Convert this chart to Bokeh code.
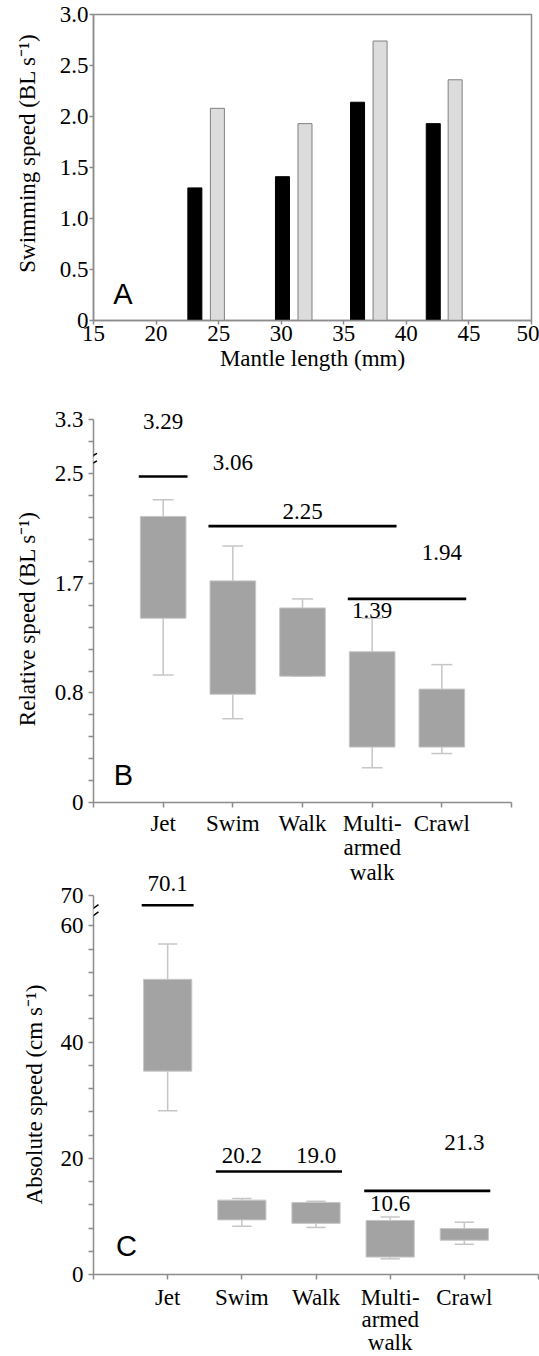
import math
from bokeh.plotting import figure
from bokeh.models import (ColumnDataSource, FixedTicker, Range1d, Label, Arrow,
                          CustomJSTickFormatter)
from bokeh.layouts import column
from bokeh.embed import file_html
from bokeh.resources import INLINE
from bokeh.core.properties import value

# ---------------- data ----------------
# Panel A
a_len_black = [23.1, 30.1, 36.1, 42.15]
a_speed_black = [1.30, 1.41, 2.14, 1.93]
a_len_grey = [24.9, 31.9, 37.9, 43.9]
a_speed_grey = [2.08, 1.93, 2.74, 2.36]
a_xticks = [15, 20, 25, 30, 35, 40, 45, 50]
a_xtick_labels = ["15", "20", "25", "30", "35", "40", "45", "50"]
a_yticks = [0, 0.5, 1.0, 1.5, 2.0, 2.5, 3.0]
a_ytick_labels = ["0", "0.5", "1.0", "1.5", "2.0", "2.5", "3.0"]

# Panels B and C
modes = ["Jet", "Swim", "Walk", "Multi-\narmed\nwalk", "Crawl"]

b_low = [0.99, 0.65, 0.98, 0.27, 0.38]
b_q1 = [1.43, 0.84, 0.98, 0.43, 0.43]
b_q3 = [2.22, 1.72, 1.51, 1.17, 0.88]
b_high = [2.35, 1.99, 1.58, 1.43, 1.07]
b_max_text = ["3.29", "3.06", "2.25", "1.39", "1.94"]
b_max_y = [2.96, 2.64, 2.26, 1.49, 1.94]
b_group_first = [1, 2, 4]
b_group_last = [1, 4, 5]
b_group_y = [2.53, 2.145, 1.58]
b_yticks = [0, 0.85, 1.7, 2.55, 2.975]
b_ytick_labels = ["0", "0.8", "1.7", "2.5", "3.3"]
b_minor_step = 0.17
b_upper_minor = [2.805]
b_break_y = 2.663

c_low = [28.2, 8.3, 8.1, 2.7, 5.2]
c_q1 = [35.0, 9.4, 8.8, 3.0, 5.9]
c_q3 = [50.8, 12.8, 12.4, 9.3, 7.9]
c_high = [56.9, 13.1, 12.6, 9.9, 9.0]
c_max_text = ["70.1", "20.2", "19.0", "10.6", "21.3"]
c_max_y = [67.3, 20.5, 20.5, 12.3, 22.8]
c_group_first = [1, 2, 4]
c_group_last = [1, 3, 5]
c_group_y = [63.56, 17.73, 14.39]
c_yticks = [0, 20, 40, 60, 65.3]
c_ytick_labels = ["0", "20", "40", "60", "70"]
c_minor_step = 4
c_break_y = 62.47

cat_ticks = list(range(0, len(modes) + 2))
cat_labels = [""] + modes + [""]

# ---------------- styles ----------------
SERIF = "Liberation Serif"
SANS = "Liberation Sans"
FS = "23px"
GREY_AX = "#8c8c8c"
BOX_FILL = "#a3a3a3"
BOX_LINE = "#c6c6c6"
WHISK = "#c6c6c6"
NB = "\u00a0"


def fmt(tick_values, tick_texts):
    return CustomJSTickFormatter(args=dict(tv=list(tick_values), tt=list(tick_texts)), code="""
for (let i = 0; i < tv.length; i++) {
  if (Math.abs(tick - tv[i]) < 1e-6) { return tt[i]; }
}
return "";
""")


def style_axes(p, tick_len):
    p.xgrid.visible = False
    p.ygrid.visible = False
    for ax in (p.xaxis[0], p.yaxis[0]):
        ax.axis_line_color = GREY_AX
        ax.axis_line_width = 1.5
        ax.major_tick_line_color = GREY_AX
        ax.minor_tick_line_color = GREY_AX
        ax.major_tick_line_width = 1.5
        ax.minor_tick_line_width = 1.5
        ax.major_tick_in = 0
        ax.major_tick_out = tick_len
        ax.minor_tick_in = 0
        ax.minor_tick_out = tick_len
        ax.major_label_text_font = SERIF
        ax.major_label_text_font_size = FS
        ax.major_label_text_color = "black"
        ax.axis_label_text_font = SERIF
        ax.axis_label_text_font_size = FS
        ax.axis_label_text_font_style = "normal"
        ax.axis_label_text_color = "black"


def letter_label(p, x, y, text):
    p.add_layout(Label(x=x, y=y, text=text, text_align="center", text_baseline="middle",
                       text_font=SANS, text_font_size="29px", text_color="black"))


def draw_boxes(p, low, q1, q3, high, box_w, cap_w):
    xs = list(range(1, len(modes) + 1))
    src = ColumnDataSource(dict(x=xs, low=low, q1=q1, q3=q3, high=high,
                                cl=[x - cap_w / 2 for x in xs],
                                cr=[x + cap_w / 2 for x in xs]))
    for a, b in (("q3", "high"), ("q1", "low")):
        p.segment(x0="x", y0=a, x1="x", y1=b, source=src, line_color=WHISK, line_width=1.5)
    for k in ("high", "low"):
        p.segment(x0="cl", y0=k, x1="cr", y1=k, source=src, line_color=WHISK, line_width=1.5)
    p.vbar(x="x", bottom="q1", top="q3", width=box_w, source=src,
           fill_color=BOX_FILL, line_color=BOX_LINE, line_width=1)


def draw_groups(p, first, last, ys, pad):
    p.segment(x0=[f - pad for f in first], y0=ys, x1=[l + pad for l in last], y1=ys,
              line_color="black", line_width=2.6)


def draw_values(p, ys, texts):
    xs = list(range(1, len(modes) + 1))
    p.text(x=xs, y=ys, text=texts, text_font=value(SERIF), text_font_size=value(FS),
           text_align="center", text_baseline="middle", text_color="black")


def draw_break(p, yc, gap, half_h, sep, x_left, x_right):
    # white gap in the axis line, then two slashes
    p.add_layout(Arrow(x_start=0, y_start=yc - gap, x_end=0, y_end=yc + gap, end=None,
                       line_color="white", line_width=3))
    for off in (-sep, sep):
        p.add_layout(Arrow(x_start=x_left, y_start=yc + off - half_h, x_end=x_right,
                           y_end=yc + off + half_h, end=None, line_color="black",
                           line_width=1.5))


# ---------------- panel A ----------------
pa = figure(frame_width=438, frame_height=306, x_range=Range1d(15, 50), y_range=Range1d(0, 3),
            output_backend="svg", toolbar_location=None,
            min_border_left=88, min_border_right=13, min_border_top=14, min_border_bottom=60)
style_axes(pa, 4)
pa.outline_line_color = GREY_AX
pa.outline_line_width = 1.5
pa.xaxis.ticker = FixedTicker(ticks=a_xticks, minor_ticks=[])
pa.yaxis.ticker = FixedTicker(ticks=a_yticks, minor_ticks=[])
pa.xaxis.formatter = fmt(a_xticks, a_xtick_labels)
pa.yaxis.formatter = fmt(a_yticks, a_ytick_labels)
pa.xaxis.major_label_standoff = 1
pa.yaxis.major_label_standoff = 1
pa.xaxis.axis_label = "Mantle length (mm)"
pa.xaxis.axis_label_standoff = 2
pa.yaxis.axis_label = NB * 5 + "Swimming speed (BL s\u207b\u00b9)"
pa.yaxis.axis_label_standoff = 17
pa.vbar(x=a_len_black, top=a_speed_black, bottom=0, width=1.12,
        fill_color="black", line_color="black", line_width=1)
pa.vbar(x=a_len_grey, top=a_speed_grey, bottom=0, width=1.12,
        fill_color="#dcdcdc", line_color="#808080", line_width=1)
letter_label(pa, 17.36, 0.26, "A")

# ---------------- panel B ----------------
b_minor = [round(k * b_minor_step, 4) for k in range(1, 15) if k % 5 != 0] + b_upper_minor
pb = figure(frame_width=418, frame_height=402, x_range=Range1d(0, 6), y_range=Range1d(0, 3.12),
            output_backend="svg", toolbar_location=None,
            min_border_left=93, min_border_right=10, min_border_top=20, min_border_bottom=86)
style_axes(pb, 5)
pb.outline_line_color = None
pb.xaxis.ticker = FixedTicker(ticks=cat_ticks, minor_ticks=[])
pb.xaxis.formatter = fmt(cat_ticks, cat_labels)
pb.yaxis.ticker = FixedTicker(ticks=b_yticks, minor_ticks=b_minor)
pb.yaxis.formatter = fmt(b_yticks, b_ytick_labels)
pb.yaxis.bounds = (0, b_yticks[-1])
pb.xaxis.bounds = (0, 6)
pb.xaxis.major_label_standoff = 3
pb.yaxis.major_label_standoff = 5
pb.xaxis.major_label_text_line_height = 0.98
pb.yaxis.axis_label = "Relative speed (BL s\u207b\u00b9)" + NB * 6
pb.yaxis.axis_label_standoff = 12
draw_boxes(pb, b_low, b_q1, b_q3, b_high, 0.655, 0.3)
draw_groups(pb, b_group_first, b_group_last, b_group_y, 0.35)
draw_values(pb, b_max_y, b_max_text)
draw_break(pb, b_break_y, 0.016, 0.018, 0.029, -0.062, 0.05)
letter_label(pb, 0.428, 0.217, "B")

# ---------------- panel C ----------------
c_minor = [k * c_minor_step for k in range(1, 15) if k % 5 != 0]
pc = figure(frame_width=445, frame_height=406, x_range=Range1d(0, 6),
            y_range=Range1d(0, 406 / 5.81),
            output_backend="svg", toolbar_location=None,
            min_border_left=93, min_border_right=1, min_border_top=2, min_border_bottom=82)
style_axes(pc, 5)
pc.outline_line_color = None
pc.border_fill_color = None
pc.background_fill_color = None
pc.xaxis.ticker = FixedTicker(ticks=cat_ticks, minor_ticks=[])
pc.xaxis.formatter = fmt(cat_ticks, cat_labels)
pc.yaxis.ticker = FixedTicker(ticks=c_yticks, minor_ticks=c_minor)
pc.yaxis.formatter = fmt(c_yticks, c_ytick_labels)
pc.yaxis.bounds = (0, c_yticks[-1])
pc.xaxis.bounds = (0, 6)
pc.xaxis.major_label_standoff = 5
pc.yaxis.major_label_standoff = 5
pc.xaxis.major_label_text_line_height = 0.9
pc.yaxis.axis_label = "Absolute speed (cm s\u207b\u00b9)" + NB * 8
pc.yaxis.axis_label_standoff = 11
draw_boxes(pc, c_low, c_q1, c_q3, c_high, 0.65, 0.26)
draw_groups(pc, c_group_first, c_group_last, c_group_y, 0.35)
draw_values(pc, c_max_y, c_max_text)
draw_break(pc, c_break_y, 0.8, 0.57, 0.63, -0.054, 0.067)
letter_label(pc, 0.445, 4.82, "C")
pc.margin = (-22, 0, 0, 0)

layout = column(pa, pb, pc)
open("out.html", "w").write(file_html(layout, INLINE))
